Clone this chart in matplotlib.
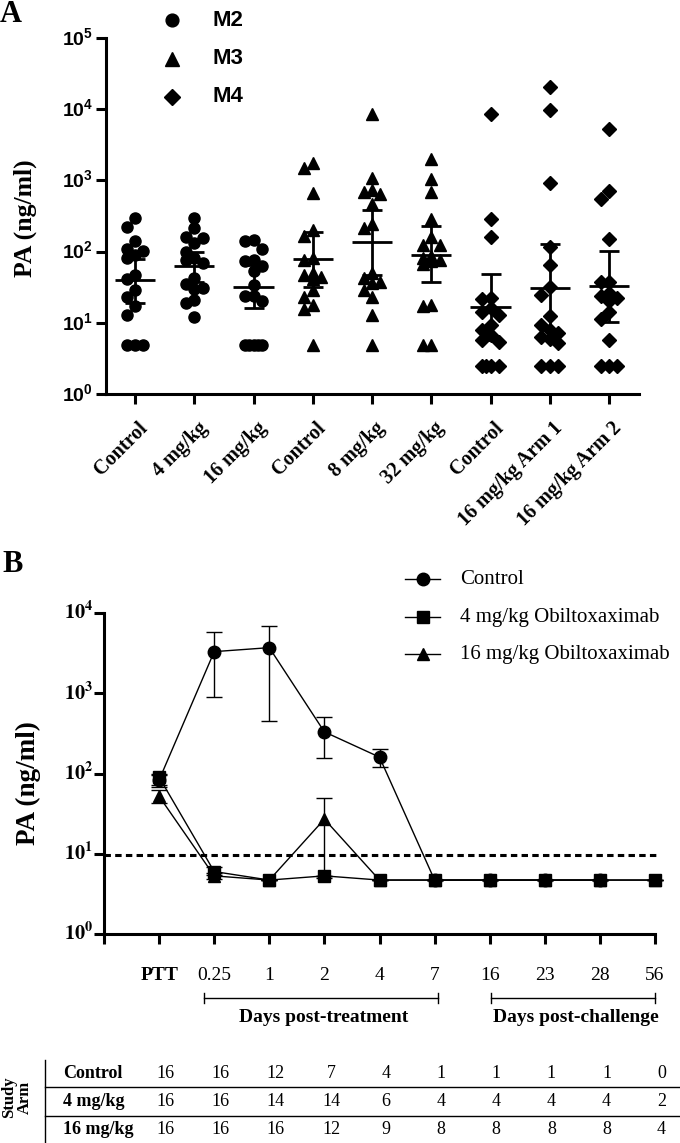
import numpy as np
import matplotlib
matplotlib.use('Agg')
import matplotlib.pyplot as plt
from matplotlib.lines import Line2D
from matplotlib.ticker import NullLocator
from matplotlib.transforms import blended_transform_factory, ScaledTranslation

plt.rcParams['font.family'] = ['Liberation Serif', 'DejaVu Serif']
plt.rcParams['mathtext.fontset'] = 'custom'
plt.rcParams['mathtext.rm'] = 'Liberation Sans'
plt.rcParams['mathtext.bf'] = 'Liberation Sans:bold'

# ---------------- Panel A data ----------------
categories_A = ['Control', '4 mg/kg', '16 mg/kg', 'Control', '8 mg/kg', '32 mg/kg',
                'Control', '16 mg/kg Arm 1', '16 mg/kg Arm 2']
study_A = ['M2', 'M2', 'M2', 'M3', 'M3', 'M3', 'M4', 'M4', 'M4']

m2_control = [297, 223, 140, 109, 101, 91, 81, 47, 41, 29, 23, 17, 13, 4.9, 4.9, 4.9]
m2_4mg = [297, 215, 160, 155, 132, 100, 80, 75, 69, 43, 35, 31, 30, 21, 19, 12]
m2_16mg = [147, 140, 109, 77, 73, 62, 53, 34, 24, 24, 20, 4.9, 4.9, 4.9, 4.9, 4.9]
m3_control = [1780, 1510, 660, 200, 165, 81, 77, 50, 47, 44, 41, 29, 23, 18, 15.5, 4.9]
m3_8mg = [8500, 1070, 745, 690, 650, 460, 248, 215, 50, 43, 38, 36, 29, 23, 13, 4.9]
m3_32mg = [1980, 1050, 690, 290, 159, 125, 123, 86, 80, 77, 73, 66, 18, 17, 4.9, 4.9]
m4_control = [8500, 290, 160, 22, 21.6, 16, 14.4, 12.9, 9.4, 7.9, 6.8, 5.8, 5.3,
              2.5, 2.5, 2.5, 2.5]
m4_arm1 = [20600, 9750, 905, 116, 64, 31.4, 24.7, 12.6, 9.4, 8.0, 7.1, 6.4, 5.9, 5.2,
           2.5, 2.5, 2.5]
m4_arm2 = [5200, 720, 550, 150, 37, 37, 26, 23.5, 22, 20, 14.4, 11.2, 5.8, 2.5, 2.5, 2.5]
values_A = [m2_control, m2_4mg, m2_16mg, m3_control, m3_8mg, m3_32mg,
            m4_control, m4_arm1, m4_arm2]

geo_mean_A = [40, 62, 32, 79, 135, 91, 16.5, 31, 32.5]
ci_low_A = [19, 38, 16, 32, 47, 37, 5.7, 7.8, 10.2]
ci_high_A = [79, 100, 64, 189, 390, 228, 48, 129, 103]

# ---------------- Panel B data ----------------
timepoints_B = ['PTT', '0.25', '1', '2', '4', '7', '16', '23', '28', '56']
series_B = ['Control', '4 mg/kg Obiltoxaximab', '16 mg/kg Obiltoxaximab']
control_B = [83, 3300, 3700, 330, 160, 4.7, 4.7, 4.7, 4.7, np.nan]
control_lo = [72, 890, 450, 158, 120, 4.7, 4.7, 4.7, 4.7, np.nan]
control_hi = [95, 5800, 6950, 510, 200, 4.7, 4.7, 4.7, 4.7, np.nan]
mg4_B = [90, 6.0, 4.7, 5.3, 4.7, 4.7, 4.7, 4.7, 4.7, 4.7]
mg4_lo = [68, 5.5, 4.7, 5.3, 4.7, 4.7, 4.7, 4.7, 4.7, 4.7]
mg4_hi = [100, 6.9, 4.7, 5.3, 4.7, 4.7, 4.7, 4.7, 4.7, 4.7]
mg16_B = [52, 5.3, 4.7, 27, 4.7, 4.7, 4.7, 4.7, 4.7, 4.7]
mg16_lo = [42.5, 4.9, 4.7, 5.0, 4.7, 4.7, 4.7, 4.7, 4.7, 4.7]
mg16_hi = [62, 5.8, 4.7, 49, 4.7, 4.7, 4.7, 4.7, 4.7, 4.7]
lloq_B = 9.6

table_rows = ['Control', '4 mg/kg', '16 mg/kg']
n_control = [16, 16, 12, 7, 4, 1, 1, 1, 1, 0]
n_4mg = [16, 16, 14, 14, 6, 4, 4, 4, 4, 2]
n_16mg = [16, 16, 16, 12, 9, 8, 8, 8, 8, 4]
table_counts = [n_control, n_4mg, n_16mg]

# ---------------- figure ----------------
W, H = 680, 1143
fig = plt.figure(figsize=(W / 100, H / 100), dpi=100)


def X(px):
    return px / W


def Y(py):
    return 1 - py / H


SERIF = 'Liberation Serif'
SANS = 'Liberation Sans'
SPINE = 2.2

# ================= Panel A =================
A_L, A_R, A_T, A_B = 106, 639, 38, 394
A_TICK0, A_STEP = 135, 59.25
axA = fig.add_axes([X(A_L), Y(A_B), (A_R - A_L) / W, (A_B - A_T) / H])
axA.set_yscale('log')
axA.set_ylim(1, 1e5)
axA.set_xlim(-(A_TICK0 - A_L) / A_STEP, (A_R - A_TICK0) / A_STEP)
for s in ['top', 'right']:
    axA.spines[s].set_visible(False)
for s in ['left', 'bottom']:
    axA.spines[s].set_linewidth(SPINE)
axA.set_xticks(range(len(categories_A)))
axA.set_xticklabels([])
axA.set_yticks([10 ** k for k in range(6)])
axA.set_yticklabels([])
axA.yaxis.set_minor_locator(NullLocator())
axA.tick_params(axis='both', length=7.5, width=SPINE, direction='out')

markers = {'M2': 'o', 'M3': '^', 'M4': 'D'}
msizes = {'M2': 8.0, 'M3': 8.6, 'M4': 6.8}
px_unit_A = A_STEP
px_dec_A = (A_B - A_T) / 5.0


def swarm(vals, pos, px_unit, px_dec, step=8.3, mind=9.5):
    vals = np.asarray(vals, dtype=float)
    order = np.argsort(-vals, kind='stable')
    placed = []
    xs = np.zeros(len(vals))
    cands = [0, -1, 1, -0.5, 0.5]
    for idx in order:
        ypx = np.log10(vals[idx]) * px_dec
        best, best_d = 0.0, -1.0
        for k in cands:
            xpx = k * step
            d = min([np.hypot(xpx - p, ypx - q) for p, q in placed] + [1e9])
            if d >= mind:
                best = xpx
                break
            if d > best_d + 1e-9:
                best, best_d = xpx, d
        placed.append((best, ypx))
        xs[idx] = pos + best / px_unit
    return xs


for i, (vals, st) in enumerate(zip(values_A, study_A)):
    xs = swarm(vals, i, px_unit_A, px_dec_A)
    axA.plot(xs, vals, ls='none', marker=markers[st], ms=msizes[st], color='k',
             mec='k', zorder=3, clip_on=False)
    m = geo_mean_A[i]
    axA.errorbar([i], [m], yerr=[[m - ci_low_A[i]], [ci_high_A[i] - m]], fmt='none',
                 ecolor='k', elinewidth=2.0, capsize=7.2, capthick=2.0, zorder=4)
    axA.hlines(m, i - 0.34, i + 0.34, color='k', lw=2.0, zorder=4)

transA_x = blended_transform_factory(axA.transData, fig.transFigure)
for i, lab in enumerate(categories_A):
    axA.text(i, Y(425), lab, transform=transA_x + ScaledTranslation(0.10, 0, fig.dpi_scale_trans),
             rotation=45, ha='right', va='center', rotation_mode='anchor',
             fontsize=14.5, fontweight='bold', fontfamily=SERIF)

transA_y = blended_transform_factory(fig.transFigure, axA.transData)
for k in range(6):
    fig.text(X(93), 10 ** k, r'$\mathbf{10^{%d}}$' % k, transform=transA_y,
             ha='right', va='center', fontsize=14, math_fontfamily='custom')

fig.text(X(25), Y(218), 'PA (ng/ml)', rotation=90, ha='center', va='center',
         fontsize=18.5, fontweight='bold', fontfamily=SERIF)

# legend A
for st, py in zip(['M2', 'M3', 'M4'], [20, 59, 97]):
    fig.add_artist(Line2D([X(172)], [Y(py)], marker=markers[st], ms=msizes[st] * 1.15,
                          color='k', transform=fig.transFigure))
    fig.text(X(212), Y(py), st, ha='left', va='center', fontsize=16,
             fontweight='bold', fontfamily=SANS)

fig.text(X(0), Y(22), 'A', ha='left', va='baseline', fontsize=22, fontweight='bold',
         fontfamily=SERIF)

# ================= Panel B =================
B_L, B_R, B_T, B_B = 104, 655, 613, 934
axB = fig.add_axes([X(B_L), Y(B_B), (B_R - B_L) / W, (B_B - B_T) / H])
axB.set_yscale('log')
axB.set_ylim(1, 1e4)
axB.set_xlim(0, 10)
for s in ['top', 'right']:
    axB.spines[s].set_visible(False)
for s in ['left', 'bottom']:
    axB.spines[s].set_linewidth(SPINE)
axB.set_xticks(range(11))
axB.set_xticklabels([])
axB.set_yticks([10 ** k for k in range(5)])
axB.set_yticklabels([])
axB.yaxis.set_minor_locator(NullLocator())
axB.tick_params(axis='both', length=7, width=SPINE, direction='out')

posB = np.arange(1, len(timepoints_B) + 1)


def eb(vals, lo, hi, mk, ms, z):
    v = np.asarray(vals, dtype=float)
    l = np.asarray(lo, dtype=float)
    h = np.asarray(hi, dtype=float)
    axB.errorbar(posB, v, yerr=[v - l, h - v], fmt='-', marker=mk, ms=ms, color='k',
                 mfc='k', mec='k', lw=1.0, elinewidth=1.0, capsize=5.5, capthick=1.0,
                 zorder=z, clip_on=False)


eb(control_B, control_lo, control_hi, 'o', 9, 3)
eb(mg16_B, mg16_lo, mg16_hi, '^', 9, 4)
eb(mg4_B, mg4_lo, mg4_hi, 's', 8, 5)

axB.plot([0, 10.07], [lloq_B, lloq_B], ls=(0, (2.1, 1.4)), lw=2.2, color='k',
         clip_on=False, zorder=2)

transB = blended_transform_factory(axB.transData, fig.transFigure)
for i, lab in enumerate(timepoints_B):
    axB.text(posB[i], Y(975), lab, transform=transB, ha='center', va='center',
             fontsize=14, fontweight='bold' if lab == 'PTT' else 'normal',
             fontfamily=SERIF)

transB_y = blended_transform_factory(fig.transFigure, axB.transData)
for k in range(5):
    fig.text(X(93), 10 ** k, r'$\mathbf{10^{%d}}$' % k, transform=transB_y,
             ha='right', va='center', fontsize=14.5, math_fontfamily='stix')

fig.text(X(28), Y(783), 'PA (ng/ml)', rotation=90, ha='center', va='center',
         fontsize=19.5, fontweight='bold', fontfamily=SERIF)

# brackets
for (x0, x1), lab in zip([(1.81, 6.06), (7.02, 10.0)],
                         ['Days post-treatment', 'Days post-challenge']):
    axB.plot([x0, x1], [Y(998), Y(998)], transform=transB, color='k', lw=1.0,
             clip_on=False)
    for xx in (x0, x1):
        axB.plot([xx, xx], [Y(993), Y(1003)], transform=transB, color='k', lw=1.0,
                 clip_on=False)
    axB.text((x0 + x1) / 2 + 0.05, Y(1017), lab, transform=transB, ha='center',
             va='center', fontsize=14, fontweight='bold', fontfamily=SERIF)

# legend B
for lab, mk, ms, py in zip(series_B, ['o', 's', '^'], [9, 8, 9], [579, 617, 654]):
    fig.add_artist(Line2D([X(405), X(440)], [Y(py), Y(py)], color='k', lw=1.0,
                          transform=fig.transFigure))
    fig.add_artist(Line2D([X(423)], [Y(py)], marker=mk, ms=ms, color='k',
                          transform=fig.transFigure))
    fig.text(X(460), Y(py), lab, ha='left', va='center', fontsize=15, fontfamily=SERIF)

fig.text(X(2), Y(572), 'B', ha='left', va='baseline', fontsize=22, fontweight='bold',
         fontfamily=SERIF)

# table
row_y = [1074, 1102, 1130]
for name, counts, py in zip(table_rows, table_counts, row_y):
    fig.text(X(63), Y(py), name, ha='left', va='center', fontsize=13,
             fontweight='bold', fontfamily=SERIF)
    for j, c in enumerate(counts):
        axB.text(posB[j] + 0.12, Y(py), str(c), transform=transB, ha='center',
                 va='center', fontsize=13, fontfamily=SERIF)
fig.add_artist(Line2D([X(45), X(45)], [Y(1060), Y(1143)], color='k', lw=1.0,
                      transform=fig.transFigure))
for py in (1087, 1116):
    fig.add_artist(Line2D([X(45), X(680)], [Y(py), Y(py)], color='k', lw=1.0,
                          transform=fig.transFigure))
fig.text(X(17), Y(1097), 'Study\nArm', rotation=90, ha='center', va='center',
         fontsize=12, fontweight='bold', fontfamily=SERIF, linespacing=1.0,
         multialignment='center')

fig.savefig('out.png', dpi=100)
